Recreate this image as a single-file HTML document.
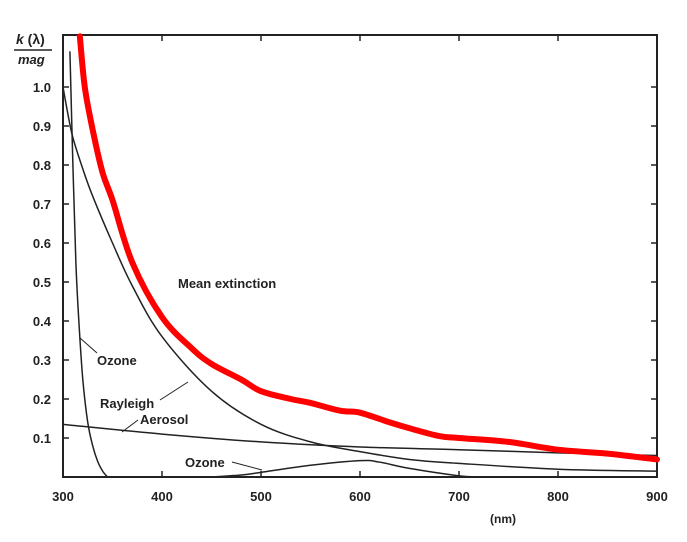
<!DOCTYPE html>
<html><head><meta charset="utf-8"><style>
body{margin:0;background:#fff}
svg text{font-family:"Liberation Sans",sans-serif;font-weight:bold;fill:#222}
</style></head><body>
<svg width="687" height="537" viewBox="0 0 687 537">
<g id="axes"></g><g id="marks"></g>
<g>
<text x="16" y="44" font-size="14"><tspan font-style="italic">k</tspan> (λ)</text>
<line x1="14" y1="50" x2="52" y2="50" stroke="#222" stroke-width="1.5"/>
<text x="18" y="64" font-size="13" font-style="italic">mag</text>
</g>
<text x="490" y="523" font-size="12">(nm)</text>
<text x="178" y="288" font-size="13">Mean extinction</text>
<text x="97" y="365" font-size="13">Ozone</text>
<line x1="80" y1="338" x2="97" y2="353" stroke="#222"/>
<text x="100" y="408" font-size="13">Rayleigh</text>
<line x1="160" y1="400" x2="188" y2="382" stroke="#222"/>
<text x="140" y="424" font-size="13">Aerosol</text>
<line x1="138" y1="420" x2="122" y2="432" stroke="#222"/>
<text x="185" y="467" font-size="13">Ozone</text>
<line x1="232" y1="462" x2="262" y2="470" stroke="#222"/>
</svg>
<script>
const xTicks=[300,400,500,600,700,800,900];
const yTicks=[0.1,0.2,0.3,0.4,0.5,0.6,0.7,0.8,0.9,1.0];
const yTickLabels=["0.1","0.2","0.3","0.4","0.5","0.6","0.7","0.8","0.9","1.0"];
const meanNm=[317,322,330,340,350,370,400,430,450,480,500,530,550,580,600,630,650,680,700,750,800,850,900];
const meanK=[1.13,1.0,0.89,0.78,0.71,0.55,0.41,0.33,0.29,0.25,0.22,0.2,0.19,0.17,0.165,0.14,0.125,0.105,0.1,0.09,0.07,0.06,0.045];
const rayNm=[300,305,310,320,330,350,370,400,450,500,550,600,650,700,800,900];
const rayK=[1.0,0.93,0.87,0.79,0.72,0.6,0.49,0.36,0.22,0.135,0.09,0.065,0.045,0.035,0.02,0.015];
const aerNm=[300,400,500,600,700,800,900];
const aerK=[0.135,0.11,0.09,0.077,0.07,0.062,0.055];
const ozUvNm=[307,310,313,316,320,325,330,335,340,345];
const ozUvK=[1.09,0.8,0.55,0.4,0.25,0.14,0.08,0.04,0.015,0];
const ozChNm=[450,480,500,550,600,620,650,700,720];
const ozChK=[0,0.005,0.012,0.03,0.042,0.038,0.022,0.003,0];
const X0=63,X1=657,Y0=477,Y1=35;
const sx=v=>X0+(v-300)/600*(X1-X0);
const sy=v=>Y0-v/1.0*390;
const NS="http://www.w3.org/2000/svg";
const ax=document.getElementById('axes'),mk=document.getElementById('marks');
function el(t,a,p){const e=document.createElementNS(NS,t);for(const k in a)e.setAttribute(k,a[k]);p.appendChild(e);return e;}
const fr=el('rect',{x:X0,y:Y1,width:X1-X0,height:Y0-Y1,fill:'none',stroke:'#222','stroke-width':2},ax);


xTicks.forEach(v=>{
 const t=el('text',{x:sx(v),y:Y0+24,'text-anchor':'middle','font-size':13},ax);t.textContent=v;
 
 
 el('line',{x1:sx(v),y1:Y0,x2:sx(v),y2:Y0-6,stroke:'#222','stroke-width':1.5},ax);
 el('line',{x1:sx(v),y1:Y1,x2:sx(v),y2:Y1+6,stroke:'#222','stroke-width':1.5},ax);
});
yTicks.forEach((v,i)=>{
 const t=el('text',{x:X0-12,y:sy(v)+5,'text-anchor':'end','font-size':13},ax);t.textContent=yTickLabels[i];
 
 
 el('line',{x1:X0,y1:sy(v),x2:X0+6,y2:sy(v),stroke:'#222','stroke-width':1.5},ax);
 el('line',{x1:X1,y1:sy(v),x2:X1-6,y2:sy(v),stroke:'#222','stroke-width':1.5},ax);
});
function smooth(pts){
 let d='M'+pts[0][0]+','+pts[0][1];
 for(let i=0;i<pts.length-1;i++){
  const p0=pts[i-1]||pts[i],p1=pts[i],p2=pts[i+1],p3=pts[i+2]||p2;
  const c1=[p1[0]+(p2[0]-p0[0])/6,p1[1]+(p2[1]-p0[1])/6];
  const c2=[p2[0]-(p3[0]-p1[0])/6,p2[1]-(p3[1]-p1[1])/6];
  d+=' C'+c1.join(',')+' '+c2.join(',')+' '+p2.join(',');
 }
 return d;
}
function line(xs,ys,c,w,name){
 const p=el('path',{d:smooth(xs.map((x,i)=>[sx(x),sy(ys[i])])),fill:'none',stroke:c,'stroke-width':w,'stroke-linejoin':'round','stroke-linecap':'round'},mk);
 
 
}
line(rayNm,rayK,'#222',1.5,'rayleigh-line');
line(aerNm,aerK,'#222',1.5,'aerosol-line');
line(ozUvNm,ozUvK,'#222',1.5,'ozone-uv-line');
line(ozChNm,ozChK,'#222',1.5,'ozone-chappuis-line');
line(meanNm,meanK,'#f00',6,'mean-extinction-line');
</script>
</body></html>
